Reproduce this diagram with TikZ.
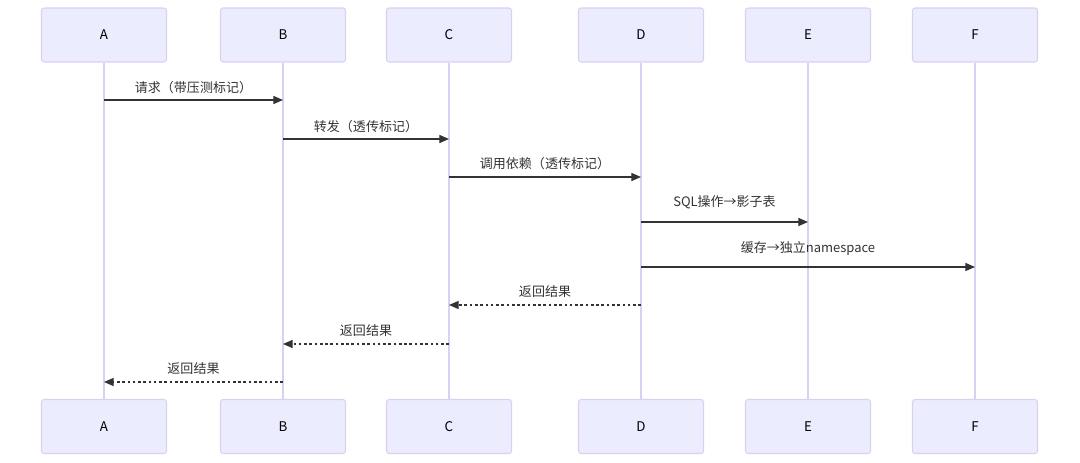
\documentclass[tikz,border=0pt]{standalone}
\usepackage{fontspec}
\setmainfont{Noto Sans CJK SC}
\usepackage{xcolor}
\usetikzlibrary{arrows.meta}

\definecolor{actorfill}{HTML}{ECECFF}
\definecolor{actorline}{HTML}{DAD0F2}
\definecolor{msgcol}{HTML}{333333}

\begin{document}
\begin{tikzpicture}[x=0.02cm, y=-0.02cm,
    actor/.style={draw=actorline, fill=actorfill, line width=0.6pt,
      rounded corners=1.5pt, minimum width=2.5cm, minimum height=1.08cm,
      inner sep=0pt, font=\fontsize{7.6pt}{9pt}\selectfont},
    lifeline/.style={draw=actorline, line width=0.8pt},
    msg/.style={draw=msgcol, line width=0.7pt,
      -{Triangle[length=5.5pt, width=4.6pt]}},
    reply/.style={msg, dash pattern=on 1.5pt off 1.5pt},
    lbl/.style={text=msgcol, inner sep=0pt,
      font=\fontsize{7.4pt}{9pt}\selectfont}]

  \useasboundingbox (0,0) rectangle (1080,463);

  % Actors, top and bottom
  \foreach \n/\x in {A/104, B/283, C/449, D/641, E/808, F/975} {
    \node[actor] (\n) at (\x,35) {\n};
    \node[actor] (\n b) at (\x,426.5) {\n};
    \draw[lifeline] (\n.south) -- (\n b.north);
  }

  % Message rows
  \coordinate (m1) at (0,100);
  \coordinate (m2) at (0,139);
  \coordinate (m3) at (0,177);
  \coordinate (m4) at (0,222);
  \coordinate (m5) at (0,267);
  \coordinate (m6) at (0,305);
  \coordinate (m7) at (0,344);
  \coordinate (m8) at (0,382);

  % Calls
  \draw[msg] (A |- m1) -- node[lbl, midway, yshift=0.24cm] {请求（带压测标记）} (B |- m1);
  \draw[msg] (B |- m2) -- node[lbl, midway, yshift=0.25cm] {转发（透传标记）} (C |- m2);
  \draw[msg] (C |- m3) -- node[lbl, midway, yshift=0.26cm] {调用依赖（透传标记）} (D |- m3);
  \draw[msg] (D |- m4) -- node[lbl, midway, yshift=0.40cm] {SQL操作→影子表} (E |- m4);
  \draw[msg] (D |- m5) -- node[lbl, midway, yshift=0.38cm] {缓存→独立namespace} (F |- m5);

  % Replies
  \draw[reply] (D |- m6) -- node[lbl, midway, yshift=0.26cm] {返回结果} (C |- m6);
  \draw[reply] (C |- m7) -- node[lbl, midway, yshift=0.26cm] {返回结果} (B |- m7);
  \draw[reply] (B |- m8) -- node[lbl, midway, yshift=0.26cm] {返回结果} (A |- m8);

\end{tikzpicture}
\end{document}
